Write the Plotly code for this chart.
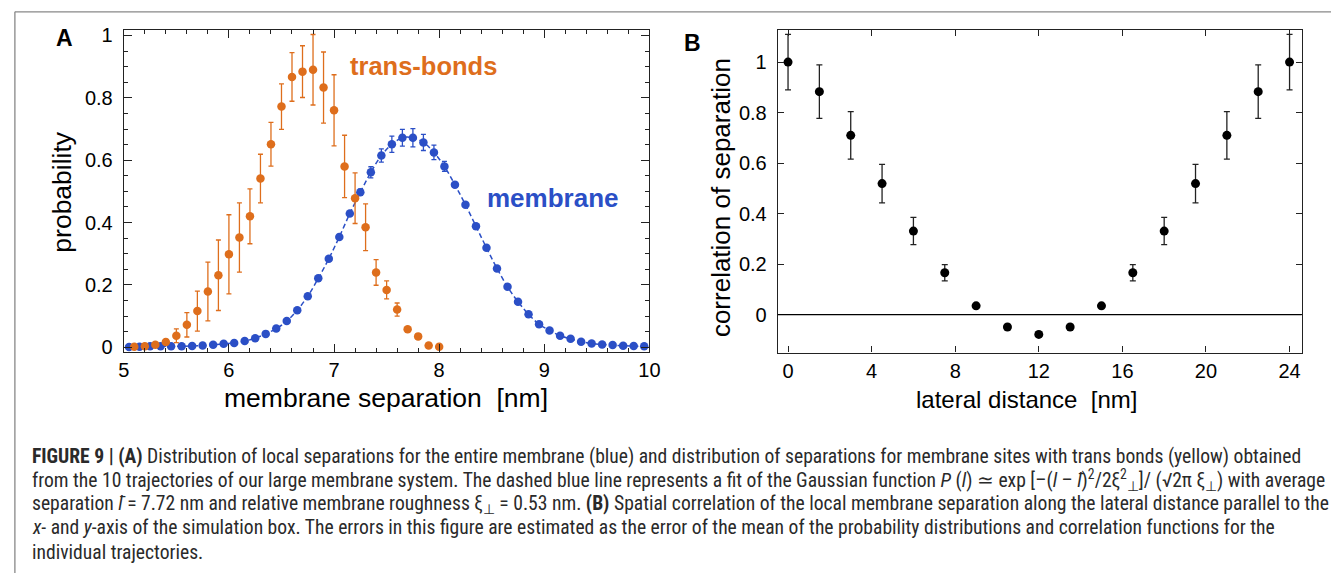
import plotly.graph_objects as go

# ---------------- data ----------------
trans_x = [5.1, 5.2, 5.3, 5.4, 5.5, 5.6, 5.7, 5.8, 5.9, 6.0,
           6.1, 6.2, 6.3, 6.4, 6.5, 6.6, 6.7, 6.8, 6.9, 7.0,
           7.1, 7.2, 7.3, 7.4, 7.5, 7.6, 7.7, 7.8, 7.9, 8.0]
trans_y = [0.002, 0.003, 0.008, 0.017, 0.037, 0.072, 0.116, 0.179, 0.231, 0.298,
           0.352, 0.420, 0.541, 0.651, 0.772, 0.867, 0.884, 0.890, 0.833, 0.760,
           0.580, 0.478, 0.385, 0.240, 0.184, 0.121, 0.058, 0.035, 0.006, 0.002]
trans_err = [0, 0, 0, 0, 0.022, 0.039, 0.064, 0.094, 0.113, 0.127,
             0.111, 0.088, 0.078, 0.070, 0.073, 0.078, 0.083, 0.113, 0.114, 0.114,
             0.100, 0.081, 0.075, 0.041, 0.029, 0.021, 0, 0, 0, 0]

mem_x = [5.05, 5.15, 5.25, 5.35, 5.45, 5.55, 5.65, 5.75, 5.85, 5.95,
         6.05, 6.15, 6.25, 6.35, 6.45, 6.55, 6.65, 6.75, 6.85, 6.95,
         7.05, 7.15, 7.25, 7.35, 7.45, 7.55, 7.65, 7.75, 7.85, 7.95,
         8.05, 8.15, 8.25, 8.35, 8.45, 8.55, 8.65, 8.75, 8.85, 8.95,
         9.05, 9.15, 9.25, 9.35, 9.45, 9.55, 9.65, 9.75, 9.85, 9.95]
mem_y = [0.001, 0.002, 0.003, 0.003, 0.003, 0.003, 0.004, 0.006, 0.008, 0.011,
         0.014, 0.020, 0.029, 0.043, 0.060, 0.084, 0.119, 0.164, 0.221, 0.284,
         0.354, 0.429, 0.497, 0.561, 0.615, 0.651, 0.672, 0.672, 0.657, 0.625,
         0.580, 0.521, 0.457, 0.388, 0.319, 0.253, 0.194, 0.146, 0.106, 0.074,
         0.054, 0.037, 0.027, 0.018, 0.012, 0.009, 0.007, 0.005, 0.004, 0.003]
mem_err = [0, 0, 0, 0, 0, 0, 0, 0, 0, 0,
           0, 0, 0, 0, 0, 0, 0, 0, 0, 0,
           0, 0.006, 0.010, 0.018, 0.021, 0.026, 0.027, 0.029, 0.026, 0.023,
           0.016, 0.008, 0, 0, 0, 0, 0, 0, 0, 0,
           0, 0, 0, 0, 0, 0, 0, 0, 0, 0]

corr_x = [0, 1.5, 3, 4.5, 6, 7.5, 9, 10.5, 12, 13.5, 15, 16.5, 18, 19.5, 21, 22.5, 24]
corr_y = [1.0, 0.883, 0.710, 0.519, 0.331, 0.166, 0.035, -0.049, -0.078, -0.049,
          0.035, 0.166, 0.331, 0.519, 0.710, 0.883, 1.0]
corr_err = [0.11, 0.106, 0.094, 0.076, 0.054, 0.032, 0.006, 0, 0, 0,
            0.006, 0.032, 0.054, 0.076, 0.094, 0.106, 0.11]

a_xticks = [5, 6, 7, 8, 9, 10]
a_yticks = [0, 0.2, 0.4, 0.6, 0.8, 1]
a_yticklabels = ["0", "0.2", "0.4", "0.6", "0.8", "1"]
b_xticks = [0, 4, 8, 12, 16, 20, 24]
b_yticks = [0, 0.2, 0.4, 0.6, 0.8, 1]
b_yticklabels = ["0", "0.2", "0.4", "0.6", "0.8", "1"]

ORANGE = "#DE6E1C"
BLUE = "#2B4FC6"
W, H = 1342, 579
FONT = "Liberation Sans, Arial, sans-serif"
CAP_FONT = "Liberation Sans Narrow, Roboto Condensed, Liberation Sans, sans-serif"


def px(x, y):
    return x / W, 1 - y / H


fig = go.Figure()

fig.add_trace(go.Scatter(
    x=mem_x, y=mem_y, mode="lines+markers",
    line=dict(color=BLUE, width=1.5, dash="5px,3px", shape="spline"),
    marker=dict(color=BLUE, size=8.5),
    error_y=dict(type="data", array=mem_err, color=BLUE, thickness=1.3, width=2.5),
    xaxis="x", yaxis="y", showlegend=False))

fig.add_trace(go.Scatter(
    x=trans_x, y=trans_y, mode="markers",
    marker=dict(color=ORANGE, size=8.5),
    error_y=dict(type="data", array=trans_err, color=ORANGE, thickness=1.3, width=2.5),
    xaxis="x", yaxis="y", showlegend=False))

fig.add_trace(go.Scatter(
    x=corr_x, y=corr_y, mode="markers",
    marker=dict(color="black", size=9),
    error_y=dict(type="data", array=corr_err, color="#222", thickness=1.3, width=3),
    xaxis="x2", yaxis="y2", showlegend=False))

axis_common = dict(showline=True, linecolor="#222", linewidth=1.2, mirror="allticks",
                   ticks="inside", tickcolor="#222", showgrid=False, zeroline=False,
                   tickfont=dict(family=FONT, size=20, color="black"))

fig.update_layout(
    width=W, height=H,
    margin=dict(l=0, r=0, t=0, b=0),
    paper_bgcolor="white", plot_bgcolor="white",
    xaxis=dict(domain=[119.3 / W, 651.7 / W], range=[5, 10], anchor="y",
               tickmode="array", tickvals=a_xticks, ticklen=8,
               minor=dict(dtick=0.2, ticklen=4.5, ticks="inside", tickcolor="#222"),
               **axis_common),
    yaxis=dict(domain=[1 - 354 / H, 1 - 25 / H], range=[-0.016, 1.019], anchor="x",
               tickmode="array", tickvals=a_yticks, ticktext=a_yticklabels, ticklen=8,
               minor=dict(dtick=0.05, ticklen=4.5, ticks="inside", tickcolor="#222"),
               ticklabelstandoff=6,
               **axis_common),
    xaxis2=dict(domain=[781.7 / W, 1312.3 / W], range=[-0.49, 24.58], anchor="y2",
                tickmode="array", tickvals=b_xticks, ticklen=6,
                **axis_common),
    yaxis2=dict(domain=[1 - 354.3 / H, 1 - 25 / H], range=[-0.15, 1.129], anchor="x2",
                tickmode="array", tickvals=b_yticks, ticktext=b_yticklabels, ticklen=6,
                ticklabelstandoff=6,
                **axis_common),
)

# zero line in panel B
fig.add_shape(type="line", xref="x2 domain", yref="y2", x0=0, x1=1, y0=0, y1=0,
              line=dict(color="black", width=1.3))

# outer grey frame (top and left)
fig.add_shape(type="line", xref="paper", yref="paper", x0=9 / W, x1=1, y0=1 - 7 / H, y1=1 - 7 / H,
              line=dict(color="#888", width=1.3))
fig.add_shape(type="line", xref="paper", yref="paper", x0=9 / W, x1=9 / W, y0=0, y1=1 - 7 / H,
              line=dict(color="#888", width=1.3))

ann = []


def text(x, y, s, size, color="black", bold=False, family=FONT, angle=0, xanchor="center"):
    xx, yy = px(x, y)
    ann.append(dict(x=xx, y=yy, xref="paper", yref="paper", text=("<b>%s</b>" % s) if bold else s,
                    showarrow=False, textangle=angle, xanchor=xanchor, yanchor="middle",
                    font=dict(family=family, size=size, color=color)))


text(59, 34, "A", 23, bold=True)
text(695, 39, "B", 23, bold=True)
text(385, 401, "membrane separation  [nm]", 26.5)
text(57, 190, "probability", 26.5, angle=-90)
text(1034, 402, "lateral distance  [nm]", 24)
text(724, 196, "correlation of separation", 26, angle=-90)
text(423, 62, "trans-bonds", 25.5, color=ORANGE, bold=True)
text(554, 197, "membrane", 26, color=BLUE, bold=True)

lbar = "<i>l</i>\u0304"
cap_lines = [
    "<b>FIGURE 9 | (A)</b> Distribution of local separations for the entire membrane (blue) and distribution of separations for membrane sites with trans bonds (yellow) obtained",
    "from the 10 trajectories of our large membrane system. The dashed blue line represents a fit of the Gaussian function <i>P</i> (<i>l</i>) \u2243 exp [\u2013(<i>l</i> \u2013 " + lbar + ")<sup>2</sup>/2\u03be<sup>2</sup><sub>\u22a5</sub>]/ (\u221a2\u03c0 \u03be<sub>\u22a5</sub>) with average",
    "separation " + lbar + " = 7.72 nm and relative membrane roughness \u03be<sub>\u22a5</sub> = 0.53 nm. <b>(B)</b> Spatial correlation of the local membrane separation along the lateral distance parallel to the",
    "<i>x</i>- and <i>y</i>-axis of the simulation box. The errors in this figure are estimated as the error of the mean of the probability distributions and correlation functions for the",
    "individual trajectories.",
]
cap_y = [460, 484, 509, 533, 558]
for s, y in zip(cap_lines, cap_y):
    text(24, y, s, 19.6, family=CAP_FONT, xanchor="left", color="#2a2a2a")

fig.update_layout(annotations=ann)

fig.write_html("out.html", config={"displayModeBar": False},
               post_script="document.body.style.margin='0';document.body.style.overflow='hidden';")
